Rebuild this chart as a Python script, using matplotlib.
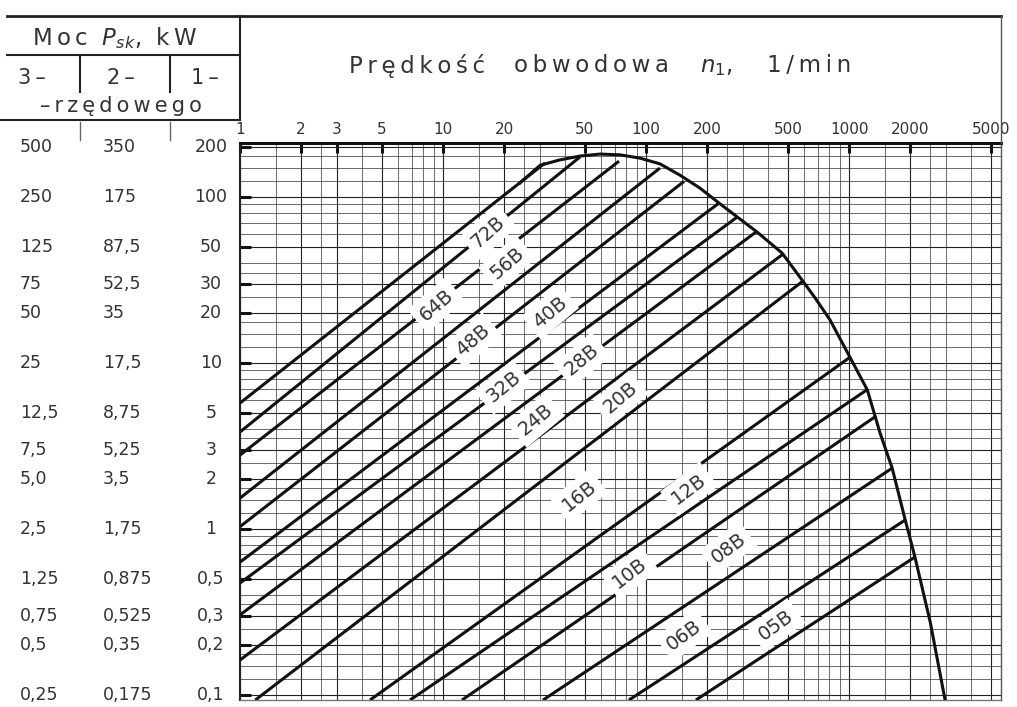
import numpy as np
import matplotlib.pyplot as plt
from matplotlib.ticker import FixedLocator, LogLocator, NullFormatter
from matplotlib.transforms import blended_transform_factory
from matplotlib.lines import Line2D

# values
n_ticks = [1, 2, 3, 5, 10, 20, 50, 100, 200, 500, 1000, 2000, 5000]
p_1row = [200, 100, 50, 30, 20, 10, 5, 3, 2, 1, 0.5, 0.3, 0.2, 0.1]
p_1row_txt = ['200', '100', '50', '30', '20', '10', '5', '3', '2', '1', '0,5', '0,3', '0,2', '0,1']
p_2row_txt = ['350', '175', '87,5', '52,5', '35', '17,5', '8,75', '5,25', '3,5', '1,75',
              '0,875', '0,525', '0,35', '0,175']
p_3row_txt = ['500', '250', '125', '75', '50', '25', '12,5', '7,5', '5,0', '2,5',
              '1,25', '0,75', '0,5', '0,25']

# chain lines: start (n0, p0) and end on the limit curve (n1, p1)
line_n0 = [1, 1, 1, 1, 1, 1, 1, 1, 1, 1.19, 4.37, 6.88, 12.4, 31.1, 82.4, 176]
line_p0 = [5.72, 3.83, 2.78, 1.53, 1.03, 0.63, 0.471, 0.303, 0.162,
           0.093, 0.093, 0.093, 0.093, 0.093, 0.093, 0.093]
line_n1 = [31.8, 47.3, 73.6, 117, 154, 229, 281, 348, 473, 593, 1010, 1240, 1360, 1630, 1890, 2110]
line_p1 = [160, 174, 164, 149, 124, 91.8, 75.5, 61.4, 45.2, 31.1, 10.8, 6.95, 4.78, 2.32, 1.13, 0.676]

# limit curve
env_n = [23.9, 30.1, 37.7, 47.3, 59.3, 74.5, 93.4, 117, 147, 184, 232, 290, 352, 468, 587,
         680, 806, 1010, 1230, 1420, 1630, 1890, 2110, 2510, 2970]
env_p = [121, 155, 167, 176, 181, 179, 171, 158, 135, 113, 90.5, 73.5, 61.4, 45.8, 31.5,
         24.6, 18.1, 10.8, 6.86, 3.78, 2.32, 1.13, 0.676, 0.274, 0.093]

# chain labels
chain_names = ['72B', '64B', '56B', '48B', '40B', '32B', '28B', '24B', '20B', '16B',
               '12B', '10B', '08B', '06B', '05B']
label_n = [16.7, 9.24, 20.7, 14.1, 33.7, 19.8, 48.4, 28.7, 74.5, 46.8, 163, 83.4, 254, 154, 437]
label_p = [61.4, 22.3, 39.9, 13.7, 20.2, 7.14, 10.4, 4.52, 6.14, 1.58, 1.74, 0.542, 0.766, 0.229, 0.263]

W, H = 1017, 707
TXT = '#333'


def spaced(s):
    # wide tracking like the lettering stencil of the original
    return '\u2009'.join(s)


fig = plt.figure(figsize=(W / 100, H / 100), dpi=100)
ax = fig.add_axes([240 / W, 7 / H, 761 / W, 557 / H])
ax.set_xscale('log')
ax.set_yscale('log')
ax.set_xlim(1, 5600)
ax.set_ylim(0.093, 211)

ax.xaxis.set_major_locator(FixedLocator(n_ticks))
ax.xaxis.set_minor_locator(LogLocator(base=10, subs=[1.5, 2, 2.5, 3, 4, 5, 6, 7, 8, 9], numticks=60))
ax.yaxis.set_major_locator(FixedLocator(p_1row))
ax.yaxis.set_minor_locator(LogLocator(base=10, subs=[1.25, 1.5, 1.75, 2, 2.5, 3, 3.5, 4, 5, 6, 7, 8, 9],
                                      numticks=60))
ax.xaxis.set_minor_formatter(NullFormatter())
ax.yaxis.set_minor_formatter(NullFormatter())
ax.xaxis.tick_top()
ax.set_xticklabels([str(v) for v in n_ticks])
ax.tick_params(axis='x', which='major', direction='in', length=7, width=2.2,
               pad=4, labelsize=11, labelcolor=TXT, colors='#111')
ax.tick_params(axis='y', which='major', direction='in', length=8, width=2.2,
               labelleft=False, colors='#111')
ax.tick_params(which='minor', length=0)
ax.grid(which='major', color='#222', lw=0.8)
ax.grid(which='minor', color='#444', lw=0.55)

for side, lw, c in [('top', 2.2, '#111'), ('left', 1.5, '#222'),
                    ('right', 1.0, '#555'), ('bottom', 1.0, '#777')]:
    ax.spines[side].set_linewidth(lw)
    ax.spines[side].set_color(c)

for i in range(len(line_n0)):
    ax.plot([line_n0[i], line_n1[i]], [line_p0[i], line_p1[i]],
            color='#111', lw=2.2, solid_capstyle='butt', zorder=3)
ax.plot(env_n, env_p, color='#111', lw=2.2, zorder=3)

for i, name in enumerate(chain_names):
    k = i + 1
    (x0, y0), (x1, y1) = ax.transData.transform([(line_n0[k], line_p0[k]), (line_n1[k], line_p1[k])])
    ang = np.degrees(np.arctan2(y1 - y0, x1 - x0)) + 3
    ax.text(label_n[i], label_p[i], name, rotation=ang, rotation_mode='anchor',
            ha='center', va='center', fontsize=14, color=TXT, zorder=5,
            bbox=dict(boxstyle='square,pad=0.3', fc='white', ec='none'))

# power table on the left
tr = blended_transform_factory(fig.transFigure, ax.transData)
for i in range(len(p_1row)):
    fig.text(20 / W, p_1row[i], p_3row_txt[i], transform=tr, ha='left', va='center',
             fontsize=12.5, color=TXT)
    fig.text(103 / W, p_1row[i], p_2row_txt[i], transform=tr, ha='left', va='center',
             fontsize=12.5, color=TXT)
    fig.text(211 / W, p_1row[i], p_1row_txt[i], transform=tr, ha='center', va='center',
             fontsize=12.5, color=TXT)


def fline(x0, y0, x1, y1, lw=1.5, c='#222'):
    fig.add_artist(Line2D([x0 / W, x1 / W], [1 - y0 / H, 1 - y1 / H], lw=lw, color=c))


fline(7, 16, 1001, 16, lw=2.0)
fline(1001, 16, 1001, 143, lw=1.0, c='#555')
fline(240, 16, 240, 120)
fline(7, 55, 240, 55)
fline(0, 120, 240, 120)
fline(80, 57, 80, 92)
fline(170, 57, 170, 92)
fline(80, 122, 80, 140, lw=1.0, c='#666')
fline(170, 122, 170, 140, lw=1.0, c='#666')

fig.text(115 / W, 1 - 38 / H, spaced('Moc') + '  $P_{sk}$,  ' + spaced('kW'),
         ha='center', va='center', fontsize=16.5, color=TXT)
for x, t in [(32, '3–'), (121, '2–'), (205, '1–')]:
    fig.text(x / W, 1 - 78 / H, spaced(t), ha='center', va='center', fontsize=15, color=TXT)
fig.text(121 / W, 1 - 106 / H, spaced('–rzędowego'), ha='center', va='center',
         fontsize=15, color=TXT)

for x, t in [(417, spaced('Prędkość')), (592, spaced('obwodowa')), (716, '$n_1$,'),
             (809, spaced('1/min'))]:
    fig.text(x / W, 1 - 66 / H, t, ha='center', va='center', fontsize=16.5, color=TXT)

fig.savefig('out.png', dpi=100)
